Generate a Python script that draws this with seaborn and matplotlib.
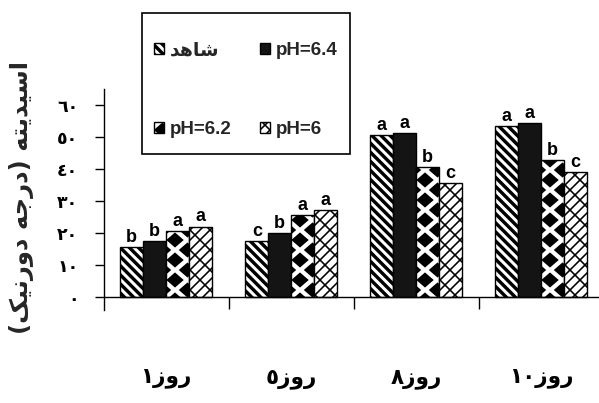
import re
import numpy as np
import pandas as pd
import matplotlib
matplotlib.use("Agg")
import matplotlib.pyplot as plt
import matplotlib.hatch as mhatch
from matplotlib.path import Path
from matplotlib.patches import Rectangle
from matplotlib.font_manager import FontProperties
import seaborn as sns

# ---------------- data ----------------
days = ["روز١", "روز٥", "روز٨", "روز١٠"]
treatments = ["شاهد", "pH=6.4", "pH=6.2", "pH=6"]
control = [15.7, 17.5, 50.6, 53.5]
ph_64 = [17.5, 20.1, 51.2, 54.3]
ph_62 = [20.6, 25.6, 40.6, 42.8]
ph_60 = [22.0, 27.2, 35.6, 39.0]
letters_control = ["b", "c", "a", "a"]
letters_64 = ["b", "b", "a", "a"]
letters_62 = ["a", "a", "b", "b"]
letters_60 = ["a", "a", "c", "c"]
y_ticks = [0, 10, 20, 30, 40, 50, 60]
y_tick_labels = ["٠", "١٠", "٢٠", "٣٠", "٤٠", "٥٠", "٦٠"]
y_title = "اسیدیته (درجه دورنیک)"

# ---------------- simple Persian shaping + visual ordering ----------------
_FORMS = {
    "ا": ("\uFE8D", "\uFE8E", None, None),
    "د": ("\uFEA9", "\uFEAA", None, None),
    "ر": ("\uFEAD", "\uFEAE", None, None),
    "ز": ("\uFEAF", "\uFEB0", None, None),
    "و": ("\uFEED", "\uFEEE", None, None),
    "س": ("\uFEB1", "\uFEB2", "\uFEB3", "\uFEB4"),
    "ش": ("\uFEB5", "\uFEB6", "\uFEB7", "\uFEB8"),
    "ی": ("\uFBFC", "\uFBFD", "\uFEF3", "\uFEF4"),
    "ت": ("\uFE95", "\uFE96", "\uFE97", "\uFE98"),
    "ه": ("\uFEE9", "\uFEEA", "\uFEEB", "\uFEEC"),
    "ج": ("\uFE9D", "\uFE9E", "\uFE9F", "\uFEA0"),
    "ن": ("\uFEE5", "\uFEE6", "\uFEE7", "\uFEE8"),
    "ک": ("\uFB8E", "\uFB8F", "\uFB90", "\uFB91"),
}


def rtl(text):
    if not any(ch in _FORMS for ch in text):
        return text
    out = []
    for i, ch in enumerate(text):
        f = _FORMS.get(ch)
        if f is None:
            out.append(ch)
            continue
        prev = text[i - 1] if i > 0 else ""
        nxt = text[i + 1] if i + 1 < len(text) else ""
        jp = prev in _FORMS and _FORMS[prev][2] is not None
        jn = f[2] is not None and nxt in _FORMS
        out.append(f[3] if (jp and jn) else f[1] if jp else f[2] if jn else f[0])
    s = "".join(out)
    digit = r"[\u0660-\u06690-9.]"
    tokens = re.findall(digit + r"+|[^\u0660-\u06690-9.]+", s)
    mirror = {"(": ")", ")": "("}
    vis = []
    for t in reversed(tokens):
        if re.match(digit, t):
            vis.append(t)
        else:
            vis.append("".join(mirror.get(c, c) for c in reversed(t)))
    return "".join(vis)


# ---------------- custom hatch patterns ----------------
def _polys(polys):
    v, c = [], []
    for p in polys:
        v.extend(p)
        v.append(p[0])
        c.extend([Path.MOVETO] + [Path.LINETO] * (len(p) - 1) + [Path.CLOSEPOLY])
    return np.array(v, float), np.array(c, Path.code_type)


class _CustomHatch(mhatch.HatchPatternBase):
    char = ""

    def __init__(self, hatch, density):
        if self.char and hatch.count(self.char) > 0:
            self._v, self._c = self.build()
        else:
            self._v, self._c = np.empty((0, 2)), np.empty(0, Path.code_type)
        self.num_vertices = len(self._v)

    def set_vertices_and_codes(self, vertices, codes):
        vertices[:] = self._v
        codes[:] = self._c


class ThickStripes(_CustomHatch):
    char = "\\"

    def build(self):
        n = 11
        w = 0.28 / n
        polys = []
        for k in range(-2, 2 * n + 3):
            c = k / n
            polys.append([(-1, c - w / 2 + 1), (2, c - w / 2 - 2),
                          (2, c + w / 2 - 2), (-1, c + w / 2 + 1)])
        return _polys(polys)


class Diamonds(_CustomHatch):
    char = "*"

    def build(self):
        mx, my = 4, 5
        hx, hy = 0.6 * 0.5 / mx, 0.65 * 0.5 / my
        polys = []
        for i in range(-1, mx + 2):
            for j in range(-1, my + 2):
                for cx, cy in ((i / mx, j / my), ((i + 0.5) / mx, (j + 0.5) / my)):
                    polys.append([(cx - hx, cy), (cx, cy - hy), (cx + hx, cy), (cx, cy + hy)])
        return _polys(polys)


class Bricks(_CustomHatch):
    char = "o"

    def build(self):
        n, m = 10, 10
        d, L = 1 / n, 1 / m
        v, c = [], []
        for k in range(-n - 1, n + 2):
            cc = k * d
            v += [(-1, -1 + cc), (2, 2 + cc)]
            c += [Path.MOVETO, Path.LINETO]
            off = (k % 2) * L / 2
            for j in range(-2, m + 3):
                u = j * L + off
                v += [(u, u + cc), (u - d / 2, u + cc + d / 2)]
                c += [Path.MOVETO, Path.LINETO]
        return np.array(v, float), np.array(c, Path.code_type)


mhatch._hatch_types[:] = [mhatch.HorizontalHatch, mhatch.VerticalHatch,
                          mhatch.NorthEastHatch, ThickStripes, Diamonds, Bricks]

# ---------------- figure ----------------
sns.set_theme(style="ticks")
plt.rcParams["font.family"] = ["Liberation Sans", "DejaVu Sans"]
plt.rcParams["hatch.linewidth"] = 1.15
plt.rcParams["hatch.color"] = "black"

fig = plt.figure(figsize=(5.99, 4.03), dpi=100)
fig.patch.set_facecolor("white")
ax = fig.add_axes([103.5 / 599, 93 / 403, 495.5 / 599, 221 / 403])
ax.set_facecolor("white")

days_vis = [rtl(d) for d in days]
treat_vis = [rtl(t) for t in treatments]
all_vals = [control, ph_64, ph_62, ph_60]
rows = []
for t, vals in zip(treat_vis, all_vals):
    for d, v in zip(days_vis, vals):
        rows.append((d, t, v))
df = pd.DataFrame(rows, columns=["day", "treatment", "value"])

sns.barplot(data=df, x="day", y="value", hue="treatment", order=days_vis,
            hue_order=treat_vis, width=0.73, palette=["white"] * 4,
            saturation=1, edgecolor="black", linewidth=1.0, legend=False, ax=ax)

hatches = ["\\", "", "*", "o"]
faces = ["white", "#141414", "white", "white"]
all_letters = [letters_control, letters_64, letters_62, letters_60]
for cont, h, fc, lets in zip(ax.containers, hatches, faces, all_letters):
    for bar, let in zip(cont, lets):
        bar.set_hatch(h)
        bar.set_facecolor(fc)
        bar.set_edgecolor("black")
        ax.text(bar.get_x() + bar.get_width() / 2, bar.get_height() + 1.6, let,
                ha="center", va="baseline", fontsize=13, fontweight="bold",
                family=["Liberation Sans", "DejaVu Sans"], color="black")

ax.set_xlim(-0.5, -0.5 + 495.5 / 125)
ax.set_ylim(-4.06, 65)
for s in ("top", "right"):
    ax.spines[s].set_visible(False)
ax.spines["bottom"].set_position(("data", 0))
for s in ("left", "bottom"):
    ax.spines[s].set_linewidth(1.0)
    ax.spines[s].set_color("black")

ax.set_yticks(y_ticks)
ax.set_yticklabels(y_tick_labels, fontsize=12.5, fontweight="bold", family="DejaVu Sans")
ax.tick_params(axis="y", length=6.5, width=1.0, direction="out", pad=11.5, colors="black")

ax.set_xticks(range(len(days_vis)))
ax.set_xticklabels(days_vis, fontsize=15.5, fontweight="bold", family="DejaVu Sans")
ax.set_xticks([0.5, 1.5, 2.5], minor=True)
ax.tick_params(axis="x", which="major", length=0, pad=52, colors="black")
ax.tick_params(axis="x", which="minor", length=8.6, width=1.0, direction="out", colors="black")
ax.set_xlabel("")
ax.set_ylabel("")

fig.text(22 / 599, 1 - 198 / 403, rtl(y_title), rotation=90, ha="center", va="center",
         fontsize=17.5, fontweight="bold", family="DejaVu Sans")

conts = ax.containers
order = [0, 2, 1, 3]
fig.legend(handles=[conts[i] for i in order], labels=[treat_vis[i] for i in order],
           ncol=2, loc="upper left", bbox_to_anchor=(154 / 599, 1 - 42 / 403),
           frameon=False, borderpad=0, borderaxespad=0, handlelength=0.55,
           handleheight=0.55, handletextpad=0.3, columnspacing=1.5, labelspacing=3.3,
           prop=FontProperties(family=["Liberation Sans", "DejaVu Sans"], weight="bold", size=13.5))
fig.add_artist(Rectangle((142 / 599, 1 - 154 / 403), 208 / 599, 141 / 403,
                         transform=fig.transFigure, fill=False, edgecolor="black", linewidth=1.2))

fig.savefig("out.png", dpi=100, facecolor="white")
